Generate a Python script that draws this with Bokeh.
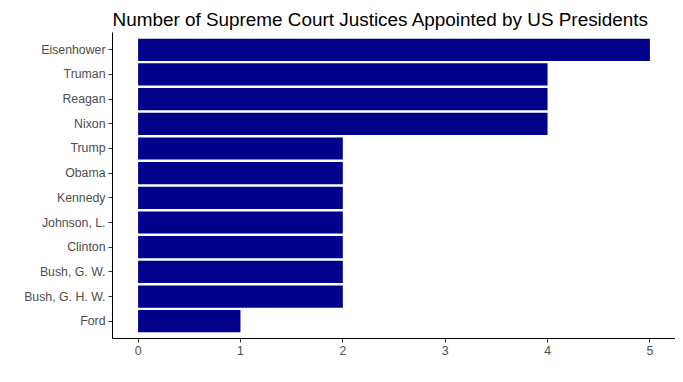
from bokeh.plotting import figure
from bokeh.embed import file_html
from bokeh.resources import INLINE
from bokeh.models import ColumnDataSource, FixedTicker

presidents = ["Eisenhower", "Truman", "Reagan", "Nixon", "Trump", "Obama", "Kennedy",
              "Johnson, L.", "Clinton", "Bush, G. W.", "Bush, G. H. W.", "Ford"]
justices = [5, 4, 4, 4, 2, 2, 2, 2, 2, 2, 2, 1]
x_ticks = [0, 1, 2, 3, 4, 5]

src = ColumnDataSource(dict(president=presidents, n=justices))

p = figure(width=675, height=374, output_backend="svg", toolbar_location=None,
           y_range=list(reversed(presidents)), x_range=(-0.25, 5.25),
           title="Number of Supreme Court Justices Appointed by US Presidents",
           min_border_left=112, min_border_right=0, min_border_top=32, min_border_bottom=36)
# ggplot-style discrete expansion: 0.6 units beyond the outer category centres
p.y_range.range_padding_units = "absolute"
p.y_range.range_padding = 0.2
p.hbar(y="president", right="n", left=0, height=0.9, source=src,
       fill_color="#00008B", line_color=None)

p.title.text_font = "Liberation Sans"
p.title.text_font_size = "18.9px"
p.title.text_font_style = "normal"
p.title.text_color = "black"
p.title.align = "left"
p.title.standoff = 5

p.outline_line_color = None
p.xgrid.visible = False
p.ygrid.visible = False
p.xaxis.ticker = FixedTicker(ticks=x_ticks)
for ax in (p.xaxis[0], p.yaxis[0]):
    ax.axis_line_color = "black"
    ax.axis_line_width = 1
    ax.major_tick_line_color = "#333333"
    ax.major_tick_in = 0
    ax.major_tick_out = 4
    ax.minor_tick_line_color = None
    ax.major_label_text_font = "Liberation Sans"
    ax.major_label_text_font_size = "12.3px"
    ax.major_label_text_color = "#4d4d4d"
    ax.major_label_standoff = 3

open("out.html", "w").write(file_html(p, INLINE))
